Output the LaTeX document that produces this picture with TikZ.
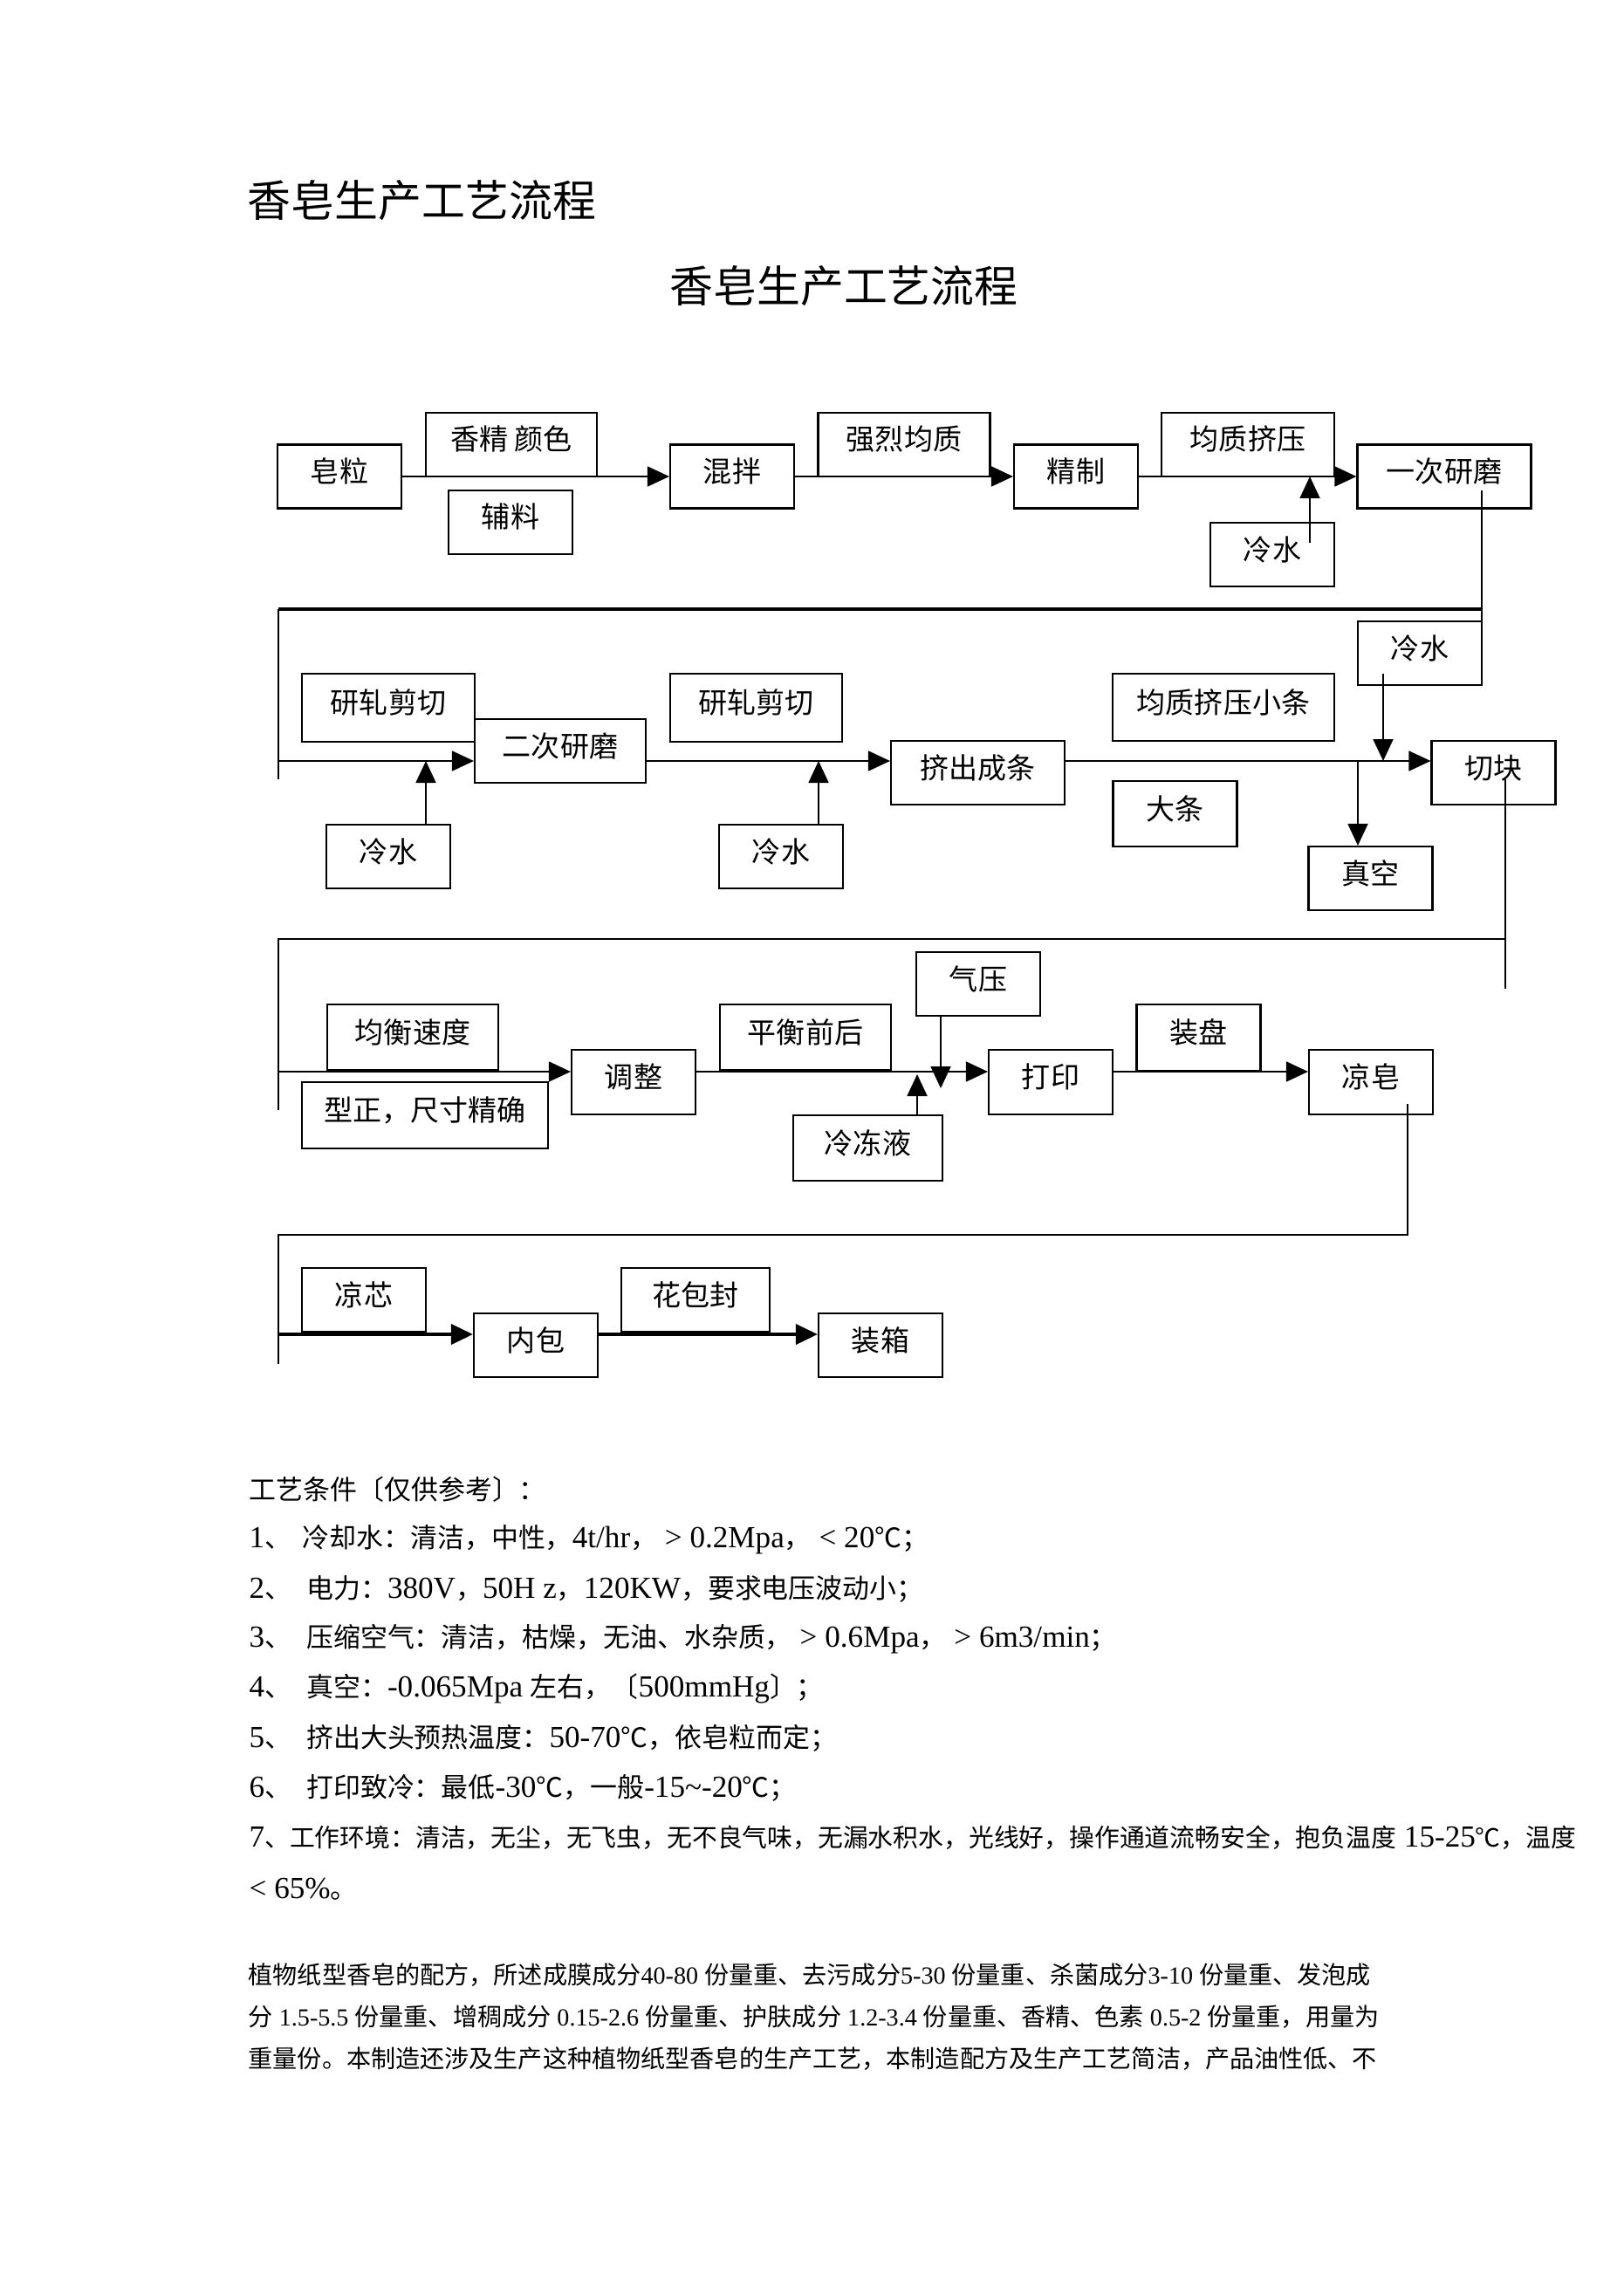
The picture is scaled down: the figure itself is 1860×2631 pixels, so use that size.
\documentclass[tikz,border=0pt]{standalone}
\usepackage{fontspec}
\setmainfont{Liberation Serif}
\newfontfamily\cjk{Noto Sans CJK SC}
\usetikzlibrary{arrows.meta}
\newcommand{\lat}[1]{{\rmfamily\fontsize{10}{12}\selectfont #1}}
\newcommand{\nm}[1]{{\rmfamily #1}}
\tikzset{
    box/.style={draw, line width=0.6pt, inner sep=0pt, minimum width=14.2mm, minimum height=7.3mm,
        text height=3.0mm, text depth=1.7mm, font=\cjk\fontsize{9.4}{11}\selectfont},
    link/.style={line width=0.5pt},
    heavy/.style={line width=1.1pt},
    flow/.style={line width=0.5pt, -{Triangle[length=2.5mm, width=2.3mm]}},
    txt/.style={anchor=west, inner sep=0pt, font=\cjk\fontsize{8.8}{10}\selectfont},
    para/.style={anchor=west, inner sep=0pt, font=\cjk\fontsize{8}{10}\selectfont},
    heading/.style={inner sep=0pt, font=\cjk\fontsize{14.2}{17}\selectfont}}

\begin{document}
\begin{tikzpicture}[x=0.1mm, y=-0.1mm]
    \useasboundingbox (0,0) rectangle (1860,2631);

    \node[heading, anchor=west] (title) at (283,230) {香皂生产工艺流程};
    \node[heading] (caption) at (967,328) {香皂生产工艺流程};

    % first row
    \node[box] (soap) at (389,546) {皂粒};
    \node[box, minimum width=19.6mm] (essence) at (586,509.5) {香精 颜色};
    \node[box] (aux) at (585,598.5) {辅料};
    \node[box] (mix) at (839,546) {混拌};
    \node[box, minimum width=19.7mm] (homog) at (1036,509.5) {强烈均质};
    \node[box] (refine) at (1233,546) {精制};
    \node[box, minimum width=19.8mm] (press) at (1430,509.5) {均质挤压};
    \node[box, minimum width=19.9mm] (mill1) at (1655,546) {一次研磨};
    \node[box] (water1) at (1458,635.5) {冷水};

    % second row
    \node[box, minimum width=19.8mm, minimum height=7.8mm] (roll1) at (445,811) {研轧剪切};
    \node[box, minimum width=19.6mm] (mill2) at (642,860.5) {二次研磨};
    \node[box, minimum width=19.7mm, minimum height=7.8mm] (roll2) at (866.5,811) {研轧剪切};
    \node[box, minimum width=19.9mm] (bar) at (1120.5,885.5) {挤出成条};
    \node[box, minimum width=25.4mm, minimum height=7.7mm] (stick) at (1402,810.5) {均质挤压小条};
    \node[box, minimum height=7.5mm] (slab) at (1346.5,932.5) {大条};
    \node[box] (cutblk) at (1711.5,885.5) {切块};
    \node[box] (vacuum) at (1570.5,1006.5) {真空};
    \node[box] (water2) at (445,981.5) {冷水};
    \node[box] (water3) at (895,981.5) {冷水};
    \node[box] (water4) at (1627,748.5) {冷水};

    % third row
    \node[box, minimum width=19.6mm, minimum height=7.5mm] (speed) at (473,1188.5) {均衡速度};
    \node[box, minimum width=28.2mm, minimum height=7.6mm] (shape) at (487,1278) {型正，尺寸精确};
    \node[box, minimum height=7.4mm] (adjust) at (726,1240) {调整};
    \node[box, minimum width=19.6mm, minimum height=7.5mm] (balance) at (923,1188.5) {平衡前后};
    \node[box] (air) at (1121,1127.5) {气压};
    \node[box, minimum width=17.1mm, minimum height=7.5mm] (coolant) at (994.5,1315.5) {冷冻液};
    \node[box, minimum height=7.4mm] (print) at (1204,1240) {打印};
    \node[box, minimum height=7.6mm] (tray) at (1373.5,1189) {装盘};
    \node[box, minimum height=7.4mm] (cool) at (1571,1240) {凉皂};

    % fourth row
    \node[box] (core) at (417,1489.5) {凉芯};
    \node[box] (inner) at (614,1541.5) {内包};
    \node[box, minimum width=17mm] (wrap) at (797,1489.5) {花包封};
    \node[box] (case) at (1009,1541.5) {装箱};

    % connectors, first row
    \draw[flow] (soap) -- (mix);
    \draw[flow] (mix) -- (refine);
    \draw[flow] (refine) -- (mill1);
    \coordinate (w1) at (1501,622);
    \draw[flow] (w1) -- (w1 |- mill1.west);
    \coordinate (out1) at (1698,562);
    \coordinate (bend1) at (319,698);
    \coordinate (end1) at (319,893);
    \draw[link] (out1) -- (out1 |- water4.north);
    \draw[heavy] (out1 |- bend1) -- (bend1);
    \draw[link] (bend1) -- (end1);

    % second row
    \coordinate (in2) at (319,872);
    \draw[flow] (in2) -- (in2 -| mill2.west);
    \draw[flow] (in2 -| mill2.east) -- (in2 -| bar.west);
    \draw[flow] (in2 -| bar.east) -- (in2 -| cutblk.west);
    \coordinate (j2) at (488,872);
    \draw[flow] (j2 |- water2.north) -- (j2);
    \coordinate (j3) at (938,872);
    \draw[flow] (j3 |- water3.north) -- (j3);
    \coordinate (w4) at (1585,772);
    \draw[flow] (w4) -- (w4 |- in2);
    \coordinate (v) at (1556,872);
    \draw[flow] (v) -- (v |- vacuum.north);
    \coordinate (out2) at (1725,893);
    \coordinate (tail2) at (1725,1133);
    \coordinate (bend2) at (319,1076);
    \coordinate (end2) at (319,1272);
    \draw[link] (out2) -- (tail2);
    \draw[link] (out2 |- bend2) -- (bend2) -- (end2);

    % third row
    \coordinate (in3) at (319,1228);
    \draw[flow] (in3) -- (in3 -| adjust.west);
    \draw[flow] (in3 -| adjust.east) -- (in3 -| print.west);
    \draw[flow] (in3 -| print.east) -- (in3 -| cool.west);
    \coordinate (a3) at (1078,1247);
    \draw[flow] (a3 |- air.south) -- (a3);
    \coordinate (c3) at (1051,1231);
    \draw[flow] (c3 |- coolant.north) -- (c3);
    \coordinate (out3) at (1613,1265);
    \coordinate (bend3) at (319,1415);
    \coordinate (end3) at (319,1563);
    \draw[link] (out3) |- (bend3) -- (end3);

    % fourth row
    \coordinate (in4) at (319,1529);
    \draw[flow, heavy] (in4) -- (in4 -| inner.west);
    \draw[flow, heavy] (in4 -| inner.east) -- (in4 -| case.west);

    % conditions
    \node[txt] (cond) at (285,1707) {工艺条件〔仅供参考〕：};
    \node[txt] (c1) at (285,1764) {\lat{1}、\hspace{0.4em}冷却水：清洁，中性，\lat{4t/hr}，\lat{\ \textgreater{} 0.2Mpa}，\lat{\ \textless{} 20}℃；};
    \node[txt] (c2) at (285,1821) {\lat{2}、\hspace{0.55em}电力：\lat{380V}，\lat{50H z}，\lat{120KW}，要求电压波动小；};
    \node[txt] (c3) at (285,1878) {\lat{3}、\hspace{0.55em}压缩空气：清洁，枯燥，无油、水杂质，\lat{\ \textgreater{} 0.6Mpa}，\lat{\ \textgreater{} 6m3/min}；};
    \node[txt] (c4) at (285,1935) {\lat{4}、\hspace{0.55em}真空：\lat{-0.065Mpa }左右，〔\lat{500mmHg}〕；};
    \node[txt] (c5) at (285,1992) {\lat{5}、\hspace{0.55em}挤出大头预热温度：\lat{50-70}℃，依皂粒而定；};
    \node[txt] (c6) at (285,2049) {\lat{6}、\hspace{0.55em}打印致冷：最低\lat{-30}℃，一般\lat{-15\textasciitilde-20}℃；};
    \node[txt, font=\cjk\fontsize{8.2}{10}\selectfont] (c7) at (285,2106) {\lat{7}、工作环境：清洁，无尘，无飞虫，无不良气味，无漏水积水，光线好，操作通道流畅安全，抱负温度\lat{ 15-25}℃，温度};
    \node[txt] (c8) at (285,2165) {\lat{\textless{} 65\%}。};

    \node[para] (p1) at (284,2263) {植物纸型香皂的配方，所述成膜成分\nm{40-80 }份量重、去污成分\nm{5-30 }份量重、杀菌成分\nm{3-10 }份量重、发泡成};
    \node[para] (p2) at (284,2311) {分\nm{ 1.5-5.5 }份量重、增稠成分\nm{\ 0.15-2.6 }份量重、护肤成分\nm{\ 1.2-3.4 }份量重、香精、色素\nm{\ 0.5-2 }份量重，用量为};
    \node[para] (p3) at (284,2359) {重量份。本制造还涉及生产这种植物纸型香皂的生产工艺，本制造配方及生产工艺简洁，产品油性低、不};
\end{tikzpicture}
\end{document}
